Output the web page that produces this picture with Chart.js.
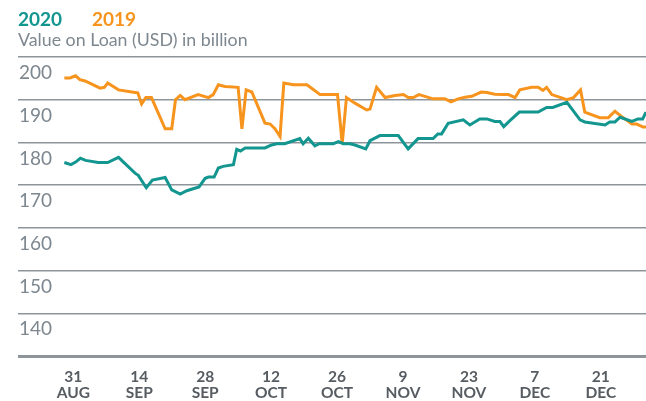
<!DOCTYPE html>
<html>
<head>
<meta charset="utf-8">
<script src="https://cdn.jsdelivr.net/npm/chart.js@4/dist/chart.umd.min.js"></script>
<style>
  body { margin: 0; background: #fff; }
  #wrap { position: relative; width: 646px; height: 401px; font-family: Lato, sans-serif; }
  #mainChart { position: absolute; left: 0; top: 0; }
  .head { position: absolute; white-space: nowrap; line-height: 1; }
  #k2020 { left: 18px; top: 9px; font-size: 19px; font-weight: bold; color: #13968f; }
  #k2019 { left: 92px; top: 9px; font-size: 19px; font-weight: bold; color: #f7941d; }
  #unit { left: 18px; top: 31px; font-size: 17.8px; color: #7d878f; }
</style>
</head>
<body>
<div id="wrap">
  <canvas id="mainChart" width="646" height="401"></canvas>
  <div class="head" id="k2020">2020</div>
  <div class="head" id="k2019">2019</div>
  <div class="head" id="unit">Value on Loan (USD) in billion</div>
</div>
<script>
// 日付は 8月31日 からの日数
const tickDays = [0, 14, 28, 42, 56, 70, 84, 98, 112];
const tickLabels = [['31', 'AUG'], ['14', 'SEP'], ['28', 'SEP'], ['12', 'OCT'], ['26', 'OCT'],
                    ['9', 'NOV'], ['23', 'NOV'], ['7', 'DEC'], ['21', 'DEC']];

// 2020年
const days2020 = [-1.9, -0.5, 0.5, 1.5, 2.6, 5.3, 7.3, 9.6, 13.1, 13.8, 15.5, 16.8, 19.5, 20.9, 22.7,
    24.1, 26.7, 28.0, 28.7, 29.9, 30.8, 31.8, 34.0, 34.7, 35.5, 36.5, 40.7, 42.1, 43.2, 44.9,
    48.1, 48.8, 49.9, 51.3, 52.2, 55.2, 56.3, 57.3, 58.7, 59.8, 62.1, 63.0, 65.1, 69.0, 71.1,
    73.2, 76.4, 77.4, 78.2, 79.6, 82.8, 84.2, 86.3, 87.8, 89.5, 90.6, 91.4, 92.7, 94.7, 98.7,
    100.5, 101.8, 104.8, 107.6, 108.6, 112.9, 113.9, 115.0, 116.1, 118.6, 119.9, 120.9, 121.6];
const values2020 = [175.3, 174.8, 175.4, 176.3, 175.8, 175.3, 175.3, 176.5, 172.8, 172.3, 169.4, 171.2, 171.8, 168.9, 167.9,
    168.7, 169.6, 171.6, 171.9, 171.9, 174.0, 174.4, 174.8, 178.4, 178.0, 178.7, 178.7, 179.4, 179.7, 179.7,
    180.9, 179.7, 181.0, 179.2, 179.7, 179.7, 180.2, 179.7, 179.7, 179.4, 178.5, 180.4, 181.6, 181.6, 178.5,
    180.9, 180.9, 182.0, 182.0, 184.5, 185.3, 184.1, 185.5, 185.5, 184.9, 184.9, 183.7, 185.1, 187.1, 187.1,
    188.2, 188.2, 189.4, 185.3, 184.8, 184.1, 184.8, 184.8, 185.9, 184.9, 185.5, 185.5, 187.1];

// 2019年
const days2019 = [-1.9, -0.7, 0.5, 1.4, 2.5, 5.7, 6.6, 7.3, 9.6, 13.1, 13.7, 14.5, 15.4, 16.6, 19.5,
    20.9, 21.7, 22.7, 23.7, 26.5, 28.7, 29.7, 30.8, 32.2, 35.0, 35.8, 36.7, 37.9, 40.7, 41.8,
    42.8, 43.9, 44.7, 46.7, 49.6, 50.6, 52.4, 56.1, 57.1, 58.0, 59.8, 62.3, 63.0, 64.4, 66.2,
    68.3, 70.1, 71.1, 72.2, 73.4, 76.4, 78.9, 80.2, 81.7, 83.2, 84.6, 86.6, 87.8, 89.5, 91.0,
    92.4, 93.8, 94.8, 97.3, 98.7, 99.7, 100.5, 101.6, 104.8, 106.2, 107.7, 108.6, 111.8, 113.6,
    115.0, 116.4, 118.6, 119.6, 121.0, 121.6];
const values2019 = [195.1, 195.1, 195.6, 194.7, 194.4, 192.7, 192.9, 193.9, 192.3, 191.7, 191.6, 189.0, 190.5, 190.5, 183.2,
    183.2, 190.0, 191.0, 190.0, 191.2, 190.5, 191.2, 193.5, 193.1, 192.9, 183.2, 192.3, 191.8, 184.5, 184.3,
    183.2, 181.4, 193.9, 193.5, 193.5, 192.7, 191.2, 191.2, 179.7, 190.5, 189.2, 187.6, 187.8, 192.9, 190.5,
    191.0, 191.2, 190.5, 190.5, 191.2, 190.2, 190.2, 189.5, 190.2, 190.6, 190.8, 191.8, 191.7, 191.3, 191.2,
    191.2, 190.5, 192.3, 192.9, 192.9, 192.2, 192.9, 191.2, 190.0, 190.5, 192.3, 187.1, 185.8, 185.8,
    187.3, 186.1, 184.3, 184.3, 183.6, 183.6];

const toXY = (xs, ys) => xs.map((x, i) => ({ x: x, y: ys[i] }));

var chrt = document.getElementById('mainChart').getContext('2d');
var mainChart = new Chart(chrt, {
    type: 'line',
    data: {
        datasets: [{
            label: '2020',
            data: toXY(days2020, values2020),
            borderColor: '#13968f',
            borderWidth: 3,
            pointRadius: 0,
            tension: 0,
        }, {
            label: '2019',
            data: toXY(days2019, values2019),
            borderColor: '#f7941d',
            borderWidth: 3,
            pointRadius: 0,
            tension: 0,
        }],
    },
    options: {
        responsive: false,
        animation: false,
        layout: { padding: { top: 57, left: 0, right: 0, bottom: 0 } },
        plugins: {
            legend: { display: false },
            tooltip: { enabled: false },
        },
        scales: {
            x: {
                type: 'linear',
                min: -11.74,
                max: 121.6,
                grid: { display: false },
                border: { display: false },
                afterBuildTicks: (axis) => { axis.ticks = tickDays.map(v => ({ value: v })); },
                afterFit: (axis) => { axis.height = 45; },
                ticks: {
                    autoSkip: false,
                    maxRotation: 0,
                    padding: 5,
                    color: '#565c61',
                    font: { family: 'Lato', size: 15.5, weight: 'bold', lineHeight: 1.02 },
                    callback: (value) => tickLabels[tickDays.indexOf(value)],
                },
            },
            y: {
                min: 130,
                max: 200,
                afterFit: (axis) => { axis.width = 18; },
                border: { display: false },
                grid: {
                    drawTicks: false,
                    color: '#8e959a',
                    lineWidth: (ctx) => ctx.tick && ctx.tick.value === 130 ? 3 : 1.5,
                },
                ticks: {
                    stepSize: 10,
                    mirror: true,
                    padding: 1,
                    labelOffset: 16,
                    color: '#7d878f',
                    font: { family: 'Lato', size: 19 },
                    callback: (value) => value === 130 ? '' : value,
                },
            },
        },
    },
});
</script>
</body>
</html>
